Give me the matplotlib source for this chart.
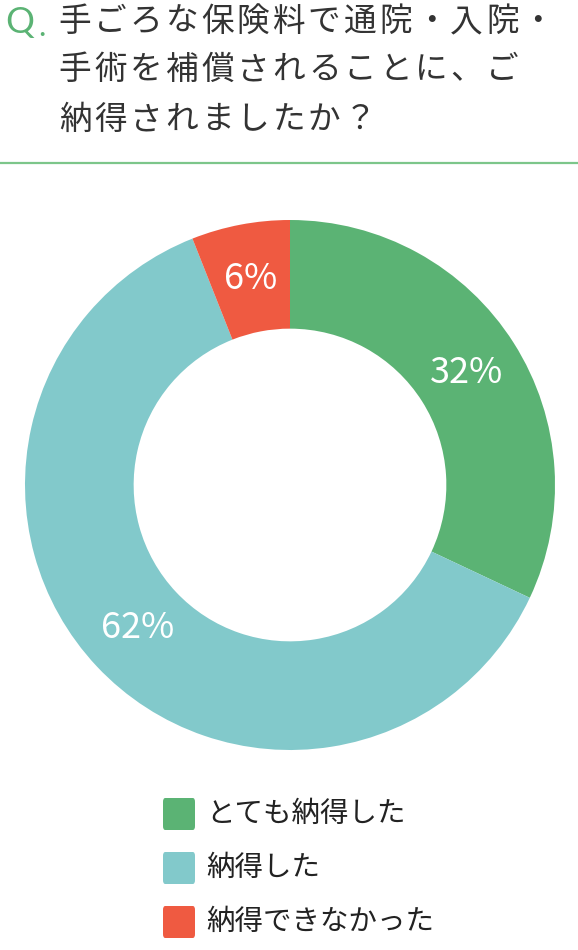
import matplotlib
matplotlib.use("Agg")
import matplotlib.pyplot as plt
from matplotlib.patches import FancyBboxPatch

plt.rcParams['font.family'] = ['Noto Sans CJK JP', 'DejaVu Sans']

# data
labels = ['とても納得した', '納得した', '納得できなかった']
shares = [32, 62, 6]
colors = ['#5bb374', '#82c9cb', '#ef5a41']
question = ['手ごろな保険料で通院・入院・', '手術を補償されることに、ご', '納得されましたか？']

W, H = 578, 950
fig = plt.figure(figsize=(W / 100, H / 100), dpi=100)


def fx(px):
    return px / W


def fy(py):
    return 1 - py / H


# question header (letter-spaced, one glyph at a time)
fig.text(fx(5), fy(23), 'Q', color='#5bb374', fontsize=26, va='center', ha='left',
         family=['Lato', 'DejaVu Sans'])
fig.text(fx(38), fy(27), '.', color='#5bb374', fontsize=22, va='center', ha='left',
         family=['Lato', 'DejaVu Sans'])
line_y = [22, 70, 120]
pitch = 35.6
for line, yy in zip(question, line_y):
    for j, ch in enumerate(line):
        fig.text(fx(75 + j * pitch), fy(yy), ch, color='#333333', fontsize=23.5,
                 va='center', ha='center')
fig.add_artist(plt.Line2D([0, 1], [fy(163), fy(163)], color='#7cc68a', lw=1.6))

# donut
ax = fig.add_axes([fx(25), fy(750), fx(530), 530 / H])
wedges, texts, autotexts = ax.pie(
    shares, colors=colors, startangle=90, counterclock=False,
    autopct='%d%%', pctdistance=0.79,
    wedgeprops=dict(width=0.41, edgecolor='none'),
    textprops=dict(color='white', fontsize=26),
)
ax.set_xlim(-1, 1)
ax.set_ylim(-1, 1)
ax.set_aspect('equal')

# legend
for i, (lab, col) in enumerate(zip(labels, colors)):
    top = 798 + i * 54
    box = FancyBboxPatch((fx(163), fy(top + 32)), fx(32), 32 / H,
                         boxstyle='round,pad=0,rounding_size=0.004',
                         transform=fig.transFigure, facecolor=col, edgecolor='none')
    fig.add_artist(box)
    fig.text(fx(206), fy(top + 16), lab, color='#222222', fontsize=20.5,
             va='center', ha='left')

fig.savefig('out.png', dpi=100)
